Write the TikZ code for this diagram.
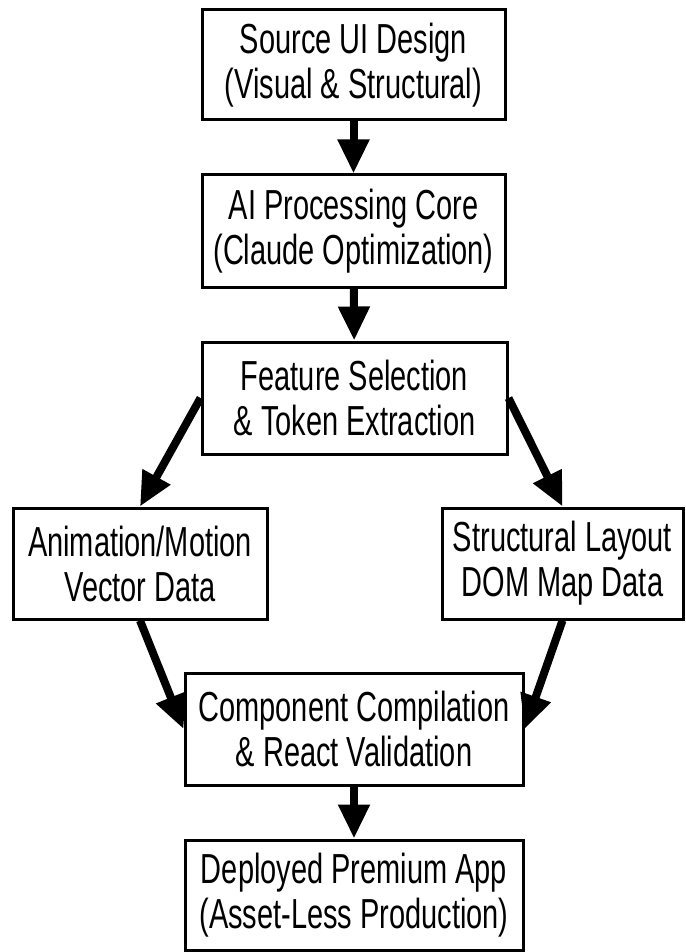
\documentclass[tikz,border=0pt]{standalone}
\usepackage{fontspec}
\setmainfont{Liberation Sans}[FakeStretch=0.69]
\usetikzlibrary{arrows.meta}

\begin{document}
\begin{tikzpicture}
    [x=1pt, y=-1pt,
     box/.style={draw, line width=3pt, align=center, inner sep=0pt,
                 font=\fontsize{42}{45}\selectfont},
     flow/.style={line width=8pt, -{Triangle[length=34pt,width=30pt]}}]
    \useasboundingbox (0,0) rectangle (685,952);
    %		boxes, top to bottom
    \node[box, minimum width=303, minimum height=110] (src) at (353.5,65) {Source UI Design\\(Visual \& Structural)};
    \node[box, minimum width=303, minimum height=112] (core) at (353.5,231) {AI Processing Core\\(Claude Optimization)};
    \node[box, minimum width=305, minimum height=112] (feat) at (354.5,398) {Feature Selection\\\& Token Extraction};
    \node[box, minimum width=254, minimum height=111] (anim) at (140,563.5) {Animation/Motion\\Vector Data};
    \node[box, minimum width=241, minimum height=111] (dom) at (562.5,563.5) {Structural Layout\\DOM Map Data};
    \node[box, minimum width=338, minimum height=112] (comp) at (354,729) {Component Compilation\\\& React Validation};
    \node[box, minimum width=338, minimum height=110] (app) at (354,895) {Deployed Premium App\\(Asset-Less Production)};
    \draw[flow] (src) to (core);
    \draw[flow] (core) to (feat);
    \draw[flow] (feat.west) to (anim.north);
    \draw[flow] (feat.east) to (dom.north);
    \draw[flow] (anim.south) to (comp.west);
    \draw[flow] (dom.south) to (comp.east);
    \draw[flow] (comp) to (app);
    \end{tikzpicture}
\end{document}
